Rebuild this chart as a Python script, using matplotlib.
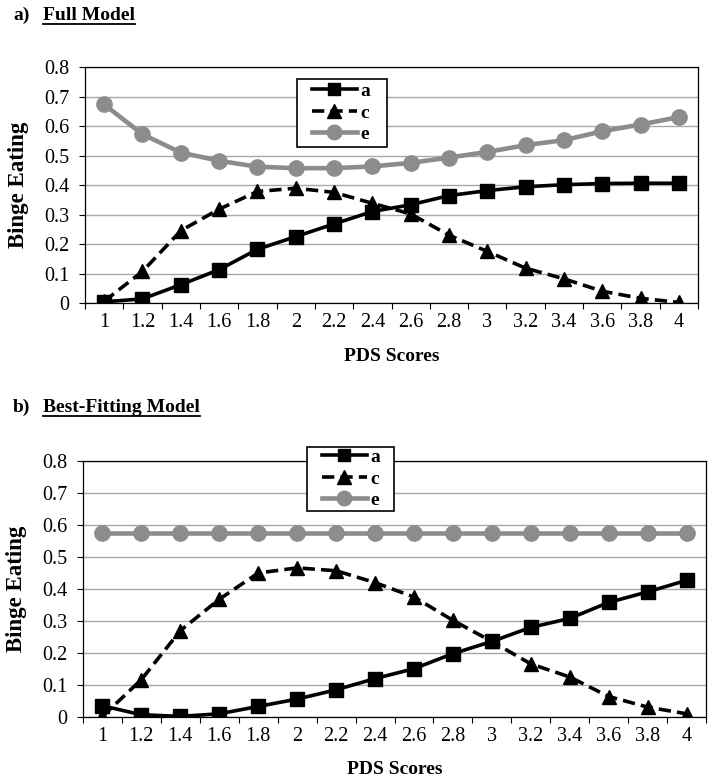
import numpy as np
import matplotlib
matplotlib.use('Agg')
import matplotlib.pyplot as plt
from matplotlib.lines import Line2D
from matplotlib.patches import Rectangle
from matplotlib.ticker import FixedLocator

pds = ['1', '1.2', '1.4', '1.6', '1.8', '2', '2.2', '2.4', '2.6', '2.8',
       '3', '3.2', '3.4', '3.6', '3.8', '4']

full_a = [0.004, 0.014, 0.062, 0.113, 0.182, 0.225, 0.268, 0.310, 0.333, 0.364,
          0.381, 0.394, 0.401, 0.405, 0.406, 0.406]
full_c = [0.006, 0.107, 0.245, 0.318, 0.378, 0.389, 0.375, 0.338, 0.302, 0.230,
          0.175, 0.118, 0.082, 0.040, 0.016, 0.002]
full_e = [0.673, 0.572, 0.510, 0.482, 0.462, 0.457, 0.457, 0.463, 0.475, 0.493,
          0.512, 0.535, 0.552, 0.582, 0.605, 0.630]

best_a = [0.035, 0.007, 0.002, 0.010, 0.033, 0.056, 0.085, 0.120, 0.151, 0.198,
          0.236, 0.280, 0.308, 0.358, 0.391, 0.427]
best_c = [0.002, 0.117, 0.270, 0.368, 0.450, 0.466, 0.457, 0.420, 0.375, 0.302,
          0.236, 0.166, 0.125, 0.064, 0.031, 0.010]
best_e = [0.576] * 16

y_ticks = [0, 0.1, 0.2, 0.3, 0.4, 0.5, 0.6, 0.7, 0.8]
y_tick_labels = ['0', '0.1', '0.2', '0.3', '0.4', '0.5', '0.6', '0.7', '0.8']

plt.rcParams['font.family'] = ['Liberation Serif', 'DejaVu Serif']

W, H = 714, 782
fig = plt.figure(figsize=(W / 100, H / 100), dpi=100)

GRAY = '#8c8c8c'


def panel(rect_px, a, c, e, leg_anchor, leg_box_px):
    l, t, r, b = rect_px
    ax = fig.add_axes([l / W, 1 - b / H, (r - l) / W, (b - t) / H])
    x = np.arange(len(pds))
    ax.plot(x, a, color='black', lw=2.6, marker='s', ms=9.5, label='a', zorder=3)
    ax.plot(x, c, color='black', lw=2.6, ls=(0, (3.4, 1.7)), marker='^', ms=10.5,
            label='c', zorder=3)
    ax.plot(x, e, color=GRAY, lw=3.3, marker='o', ms=11, label='e', zorder=3)
    ax.set_xlim(-0.5, len(pds) - 0.5)
    ax.set_ylim(0, 0.8)
    ax.set_yticks(y_ticks)
    ax.set_yticklabels(y_tick_labels)
    ax.set_xticks(x)
    ax.set_xticklabels(pds)
    ax.xaxis.set_minor_locator(FixedLocator(np.arange(-0.5, len(pds), 1.0)))
    ax.tick_params(axis='x', which='major', length=0, pad=7, labelsize=14.5)
    ax.tick_params(axis='x', which='minor', length=4, width=0.8, direction='out')
    ax.tick_params(axis='y', length=4, width=0.8, pad=7, labelsize=14.5)
    ax.yaxis.grid(True, color='#a8a8a8', lw=1)
    ax.set_axisbelow(True)
    for s in ax.spines.values():
        s.set_color('black')
        s.set_linewidth(0.9)
    # legend frame (white box with black border)
    bx0, by0, bx1, by1 = leg_box_px
    box = Rectangle((bx0 / W, 1 - by1 / H), (bx1 - bx0) / W, (by1 - by0) / H,
                    transform=fig.transFigure, facecolor='white', edgecolor='black',
                    lw=1.2, zorder=4, clip_on=False)
    ax.add_patch(box)
    leg = ax.legend(loc='center left', bbox_to_anchor=leg_anchor, borderaxespad=0,
                    frameon=False, prop={'weight': 'bold', 'size': 14},
                    handlelength=2.3, handletextpad=0.2, borderpad=0,
                    labelspacing=0.2, markerscale=0.95)
    leg.set_zorder(5)
    return ax


axA = panel((85, 67, 698, 303), full_a, full_c, full_e, (0.370, 0.806),
            (297, 79, 387, 147))
axB = panel((83, 461, 706, 717), best_a, best_c, best_e, (0.3836, 0.9297),
            (307, 447, 394, 511))

# y labels
fig.text(19 / W, 1 - 185 / H, 'Binge Eating', rotation=90, ha='center', va='center',
         fontweight='bold', fontsize=16.5)
fig.text(17 / W, 1 - 589 / H, 'Binge Eating', rotation=90, ha='center', va='center',
         fontweight='bold', fontsize=16.5)
# x labels
fig.text(391.5 / W, 1 - 356 / H, 'PDS Scores', ha='center', va='center',
         fontweight='bold', fontsize=14)
fig.text(394.5 / W, 1 - 770 / H, 'PDS Scores', ha='center', va='center',
         fontweight='bold', fontsize=14)

# panel titles
titles = []
for yc, lab, name in [(15, 'a)', 'Full Model'), (407, 'b)', 'Best-Fitting Model')]:
    fig.text(13 / W, 1 - yc / H, lab, ha='left', va='center', fontweight='bold',
             fontsize=14)
    t = fig.text(43 / W, 1 - yc / H, name, ha='left', va='center', fontweight='bold',
                 fontsize=14)
    titles.append((t, yc))

fig.canvas.draw()
renderer = fig.canvas.get_renderer()
for t, yc in titles:
    bb = t.get_window_extent(renderer)
    yline = 1 - (yc + 9) / H
    fig.add_artist(Line2D([bb.x0 / W, bb.x1 / W], [yline, yline], color='black',
                          lw=1.3, transform=fig.transFigure))

fig.savefig('out.png', dpi=100)
